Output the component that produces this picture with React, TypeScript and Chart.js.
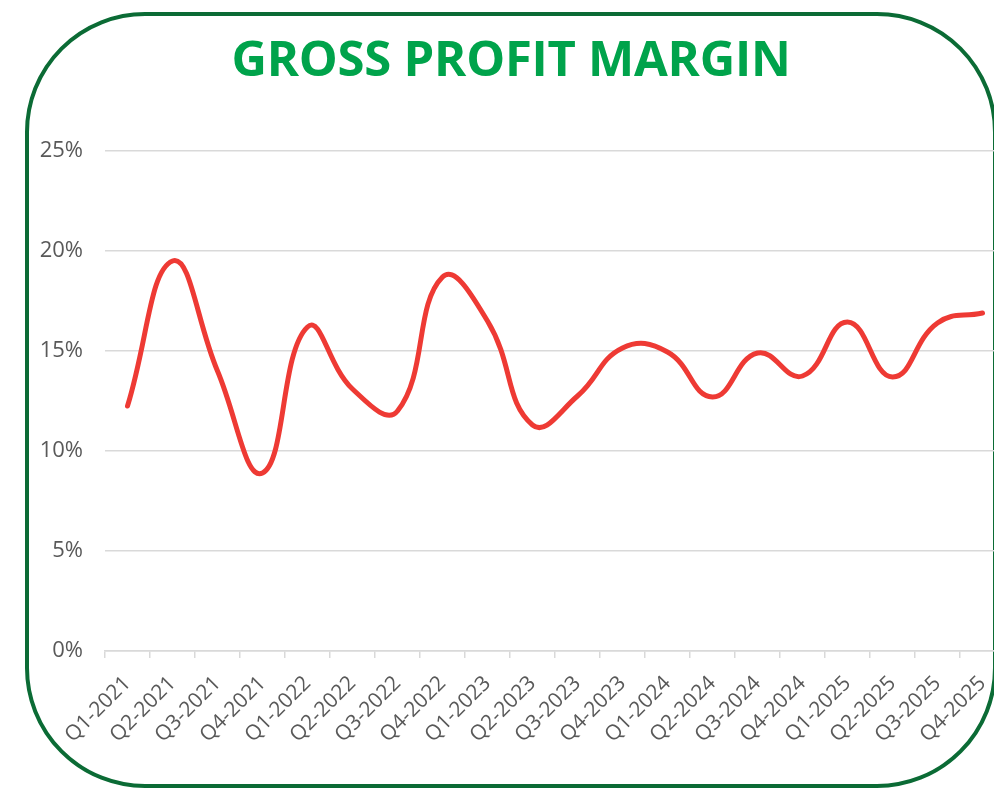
import React, { useEffect, useRef } from "react";
import { Chart, registerables } from "chart.js";

Chart.register(...registerables);

const TITLE = "GROSS PROFIT MARGIN";
const CATEGORIES = [
  "Q1-2021", "Q2-2021", "Q3-2021", "Q4-2021",
  "Q1-2022", "Q2-2022", "Q3-2022", "Q4-2022",
  "Q1-2023", "Q2-2023", "Q3-2023", "Q4-2023",
  "Q1-2024", "Q2-2024", "Q3-2024", "Q4-2024",
  "Q1-2025", "Q2-2025", "Q3-2025", "Q4-2025",
];
const MARGIN_PCT = [
  12.25, 19.5, 14.0, 8.9,
  16.2, 13.1, 12.0, 18.7,
  16.5, 11.3, 12.75, 15.15,
  14.95, 12.7, 14.9, 13.75,
  16.45, 13.7, 16.4, 16.9,
];
const Y_MIN = 0;
const Y_MAX = 25;
const Y_STEP = 5;

const FONT = "'Open Sans', 'Noto Sans', sans-serif";

export default function App() {
  const ref = useRef<HTMLCanvasElement | null>(null);

  useEffect(() => {
    if (!ref.current) return;
    const chart = new Chart(ref.current, {
      type: "line",
      data: {
        labels: CATEGORIES,
        datasets: [
          {
            data: MARGIN_PCT,
            borderColor: "#ee3a34",
            borderWidth: 5,
            borderCapStyle: "round",
            borderJoinStyle: "round",
            pointRadius: 0,
            tension: 0.45,
            fill: false,
          },
        ],
      },
      options: {
        responsive: false,
        animation: false,
        layout: { padding: { left: 0, right: 5, top: 151, bottom: 0 } },
        plugins: {
          legend: { display: false },
          tooltip: { enabled: false },
          title: { display: false },
        },
        scales: {
          x: {
            type: "category",
            offset: true,
            afterFit: (s: any) => {
              s.height = 137;
              s.paddingLeft = 0;
              s.paddingRight = 0;
            },
            grid: {
              display: true,
              offset: true,
              drawOnChartArea: false,
              drawTicks: true,
              tickLength: 7,
              color: "#d9d9d9",
              lineWidth: 1.5,
            },
            border: { display: true, color: "#d9d9d9", width: 1.5 },
            ticks: {
              autoSkip: false,
              maxRotation: 45,
              minRotation: 45,
              padding: 13,
              color: "#595959",
              font: { family: FONT, size: 21 },
            },
          },
          y: {
            min: Y_MIN,
            max: Y_MAX,
            afterFit: (s: any) => {
              s.width = 105;
              s.paddingTop = 0;
              s.paddingBottom = 0;
            },
            grid: {
              color: "#d9d9d9",
              lineWidth: 1.5,
              drawTicks: false,
            },
            border: { display: false },
            ticks: {
              stepSize: Y_STEP,
              padding: 22,
              color: "#595959",
              font: { family: FONT, size: 22 },
              callback: (v: any) => `${v}%`,
            },
          },
        },
      },
    });
    return () => chart.destroy();
  }, []);

  return (
    <div
      style={{
        position: "fixed",
        left: 0,
        top: 0,
        width: 994,
        height: 788,
        overflow: "hidden",
        background: "#ffffff",
      }}
    >
      <div
        style={{
          position: "absolute",
          left: 25,
          top: 12,
          width: 972,
          height: 776,
          boxSizing: "border-box",
          border: "4.5px solid #0b6b35",
          borderRadius: 120,
        }}
      />
      <div
        style={{
          position: "absolute",
          left: 25,
          width: 972,
          top: 33,
          textAlign: "center",
          fontFamily: FONT,
          fontWeight: 700,
          fontSize: 49,
          lineHeight: "49px",
          letterSpacing: -0.25,
          color: "#00a34b",
        }}
      >
        {TITLE}
      </div>
      <canvas
        ref={ref}
        width={1010}
        height={788}
        style={{ position: "absolute", left: 0, top: 0, width: 1010, height: 788 }}
      />
    </div>
  );
}
